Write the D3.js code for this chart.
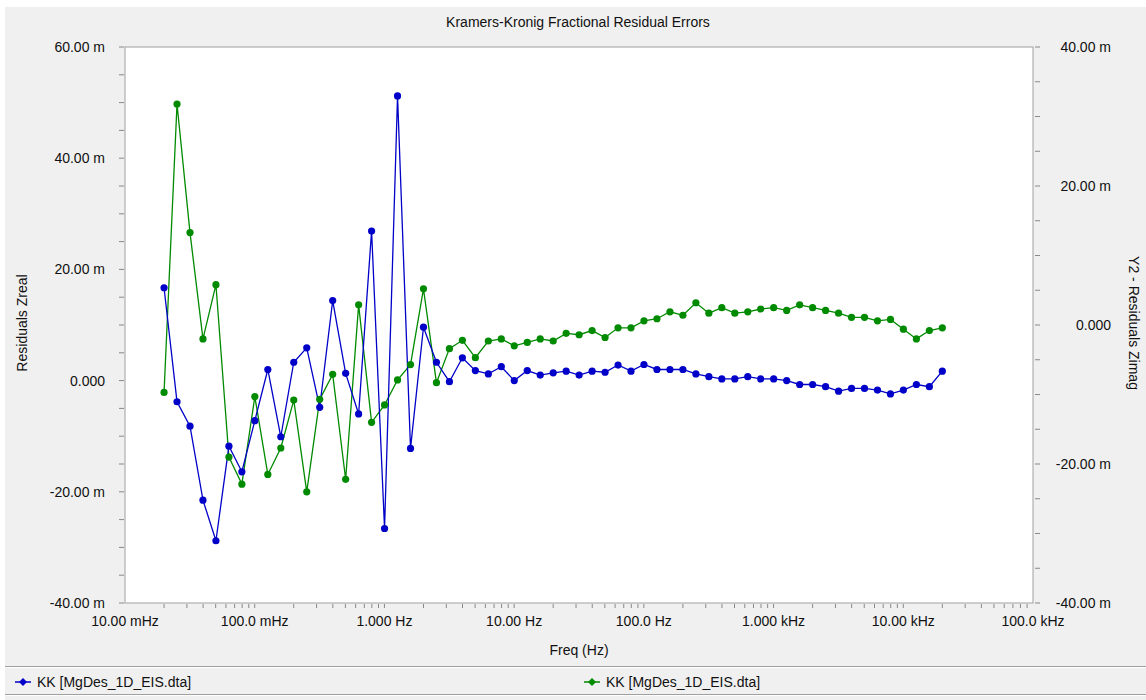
<!DOCTYPE html>
<html>
<head>
<meta charset="utf-8">
<script src="https://cdn.jsdelivr.net/npm/d3@7"></script>
<style>
	body { margin: 0; background: #fff; }
	text { font-family: "Liberation Sans", Arial, sans-serif; font-size: 14px; fill: #111; }
</style>
</head>
<body>
<div id="chart"></div>
<script>
// frequencies (Hz), 10 points per decade
const freqs = [
	0.02, 0.02518, 0.0317, 0.03991, 0.05024, 0.06325, 0.07962, 0.1002, 0.1262, 0.1589,
	0.2, 0.2518, 0.317, 0.3991, 0.5024, 0.6325, 0.7962, 1.002, 1.262, 1.589,
	2.0, 2.518, 3.17, 3.991, 5.024, 6.325, 7.962, 10.02, 12.62, 15.89,
	20, 25.18, 31.7, 39.91, 50.24, 63.25, 79.62, 100.2, 126.2, 158.9,
	200, 251.8, 317, 399.1, 502.4, 632.5, 796.2, 1002, 1262, 1589,
	2000, 2518, 3170, 3991, 5024, 6325, 7962, 10020, 12620, 15890,
	20000
];

// residuals Zreal (milli units, left axis)
const zreal = [
	16.7, -3.8, -8.2, -21.5, -28.8, -11.8, -16.4, -7.2, 2.0, -10.1,
	3.3, 5.9, -4.8, 14.4, 1.3, -6.0, 26.9, -26.6, 51.2, -12.2,
	9.6, 3.3, -0.2, 4.1, 1.8, 1.2, 2.5, 0.0, 1.8, 1.0,
	1.4, 1.7, 1.0, 1.7, 1.5, 2.8, 1.7, 2.9, 2.0, 2.0,
	2.0, 1.2, 0.7, 0.3, 0.3, 0.7, 0.3, 0.3, 0.0, -0.7,
	-0.7, -1.1, -1.9, -1.4, -1.4, -1.7, -2.4, -1.7, -0.7, -1.1,
	1.7
];

// residuals Zimag (milli units, right axis)
const zimag = [
	-9.7, 31.8, 13.3, -2.0, 5.8, -19.0, -22.9, -10.3, -21.5, -17.7,
	-10.8, -24.0, -10.7, -7.1, -22.2, 2.9, -14.0, -11.5, -7.9, -5.7,
	5.2, -8.3, -3.4, -2.2, -4.7, -2.3, -2.0, -3.0, -2.5, -2.0,
	-2.3, -1.2, -1.4, -0.8, -1.8, -0.4, -0.4, 0.6, 0.9, 1.9,
	1.4, 3.2, 1.7, 2.5, 1.7, 1.9, 2.3, 2.5, 2.1, 2.9,
	2.5, 2.1, 1.7, 1.1, 1.1, 0.6, 0.8, -0.6, -2.0, -0.8,
	-0.4
];

const xTicks = [0.01, 0.1, 1, 10, 100, 1000, 10000, 100000];
const xTickLabels = ["10.00 mHz", "100.0 mHz", "1.000 Hz", "10.00 Hz", "100.0 Hz", "1.000 kHz", "10.00 kHz", "100.0 kHz"];
const yTicks = [60, 40, 20, 0, -20, -40];
const yTickLabels = ["60.00 m", "40.00 m", "20.00 m", "0.000", "-20.00 m", "-40.00 m"];
const y2Ticks = [40, 20, 0, -20, -40];
const y2TickLabels = ["40.00 m", "20.00 m", "0.000", "-20.00 m", "-40.00 m"];

const seriesNames = ["KK [MgDes_1D_EIS.dta]", "KK [MgDes_1D_EIS.dta]"];
const blue = "#0000c8", green = "#008a00";

const W = 1146, H = 700;
const margin = {top: 47, right: 113, bottom: 97, left: 125},
		width = W - margin.left - margin.right,
		height = H - margin.top - margin.bottom;

const root = d3.select("#chart").append("svg")
	.attr("width", W)
	.attr("height", H);

// panel background
root.append("rect").attr("x", 5).attr("y", 7).attr("width", W - 5).attr("height", H - 7).attr("fill", "#f0f0f0");

root.append("text")
	.attr("x", 578).attr("y", 27)
	.attr("text-anchor", "middle")
	.text("Kramers-Kronig Fractional Residual Errors");

const svg = root.append("g").attr("transform", `translate(${margin.left},${margin.top})`);

svg.append("rect")
	.attr("width", width).attr("height", height)
	.attr("fill", "#fff").attr("stroke", "#a0a0a0");

const x = d3.scaleLog().domain([0.01, 100000]).range([0, width]);
const y = d3.scaleLinear().domain([-40, 60]).range([height, 0]);
const y2 = d3.scaleLinear().domain([-40, 40]).range([height, 0]);

// minor x ticks (log)
const minorX = [];
xTicks.forEach(d => { for (let k = 1; k < 10; k++) if (d * k <= 100000) minorX.push(d * k); });
svg.append("g").selectAll("line").data(minorX.filter(d => d > 0.01 && d < 100000)).join("line")
	.attr("x1", d => x(d)).attr("x2", d => x(d))
	.attr("y1", height + 1).attr("y2", height + 5)
	.attr("stroke", "#888");

svg.append("g").selectAll("text").data(xTicks).join("text")
	.attr("x", d => x(d)).attr("y", height + 23)
	.attr("text-anchor", "middle")
	.text((d, i) => xTickLabels[i]);

// left axis
svg.append("g").selectAll("line").data(d3.range(-40, 61, 5)).join("line")
	.attr("x1", -6).attr("x2", -1)
	.attr("y1", d => y(d)).attr("y2", d => y(d))
	.attr("stroke", "#888");
svg.append("g").selectAll("text").data(yTicks).join("text")
	.attr("x", -20).attr("y", d => y(d) + 5)
	.attr("text-anchor", "end")
	.text((d, i) => yTickLabels[i]);

// right axis
svg.append("g").selectAll("line").data(d3.range(-40, 41, 5)).join("line")
	.attr("x1", width + 2).attr("x2", width + 7)
	.attr("y1", d => y2(d)).attr("y2", d => y2(d))
	.attr("stroke", "#888");
svg.append("g").selectAll("text").data(y2Ticks).join("text")
	.attr("x", width + 78).attr("y", d => y2(d) + 5)
	.attr("text-anchor", "end")
	.text((d, i) => y2TickLabels[i]);

// axis titles
svg.append("text")
	.attr("x", width / 2).attr("y", height + 52)
	.attr("text-anchor", "middle")
	.text("Freq (Hz)");
svg.append("text")
	.attr("transform", `translate(${-98},${height / 2 - 2}) rotate(-90)`)
	.attr("text-anchor", "middle")
	.text("Residuals Zreal");
svg.append("text")
	.attr("transform", `translate(${width + 96},${height / 2 - 2}) rotate(90)`)
	.attr("text-anchor", "middle")
	.text("Y2 - Residuals Zimag");

// series
const plot = svg.append("g");
const line1 = d3.line().x((d, i) => x(freqs[i])).y(d => y(d));
const line2 = d3.line().x((d, i) => x(freqs[i])).y(d => y2(d));

plot.append("path").datum(zimag)
	.attr("fill", "none").attr("stroke", green).attr("stroke-width", 1.3).attr("d", line2);
plot.append("path").datum(zreal)
	.attr("fill", "none").attr("stroke", blue).attr("stroke-width", 1.3).attr("d", line1);

plot.append("g").selectAll("circle").data(zimag).join("circle")
	.attr("cx", (d, i) => x(freqs[i])).attr("cy", d => y2(d)).attr("r", 3.6)
	.attr("fill", green);
plot.append("g").selectAll("circle").data(zreal).join("circle")
	.attr("cx", (d, i) => x(freqs[i])).attr("cy", d => y(d)).attr("r", 3.6)
	.attr("fill", blue);

// legend
[666, 694].forEach(ly => {
	root.append("line").attr("x1", 5).attr("x2", W).attr("y1", ly + 0.5).attr("y2", ly + 0.5).attr("stroke", "#a0a0a0");
	root.append("line").attr("x1", 5).attr("x2", W).attr("y1", ly + 1.5).attr("y2", ly + 1.5).attr("stroke", "#fff");
});
const legendX = [15, 584];
seriesNames.forEach((name, i) => {
	const c = i === 0 ? blue : green;
	const g = root.append("g").attr("transform", `translate(${legendX[i]},682)`);
	g.append("line").attr("x1", 0).attr("x2", 16).attr("stroke", c).attr("stroke-width", 1.5);
	g.append("path").attr("d", "M8,-4L12,0L8,4L4,0Z").attr("fill", c);
	g.append("text").attr("x", 22).attr("y", 5).text(name);
});
</script>
</body>
</html>
